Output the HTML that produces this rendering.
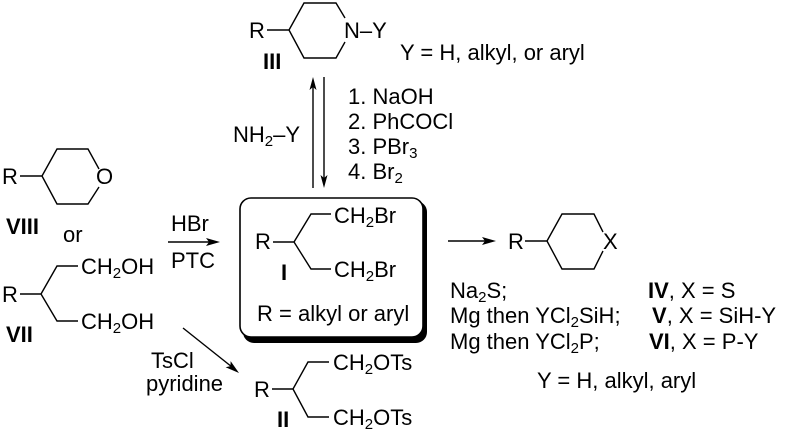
<!DOCTYPE html>
<html>
<head>
<meta charset="utf-8">
<style>
html,body{margin:0;padding:0;background:#fff;width:786px;height:441px;overflow:hidden}
svg{display:block}
text{font-family:"Liberation Sans",sans-serif;font-size:22px;fill:#000}
.b{font-weight:bold}
.l{fill:none;stroke:#000;stroke-width:1.4}
</style>
</head>
<body>
<svg width="786" height="441" viewBox="0 0 786 441" xmlns="http://www.w3.org/2000/svg">
<defs>
<path id="h" d="M0 0L-14 -4L-11 0L-14 4Z"/>
</defs>

<!-- III -->
<text x="249" y="38">R</text>
<path class="l" d="M267 30H289L304 3H336L345 18M345 42L336 58H304L289 30"/>
<text x="344" y="38">N–Y</text>
<text class="b" x="263" y="69">III</text>
<text x="400" y="60">Y = H, alkyl, or aryl</text>

<!-- equilibrium arrows -->
<path class="l" d="M313 188V84M324 77V181"/>
<path d="M313 77L309.5 90L313 87L316.5 90Z"/>
<path d="M324 188L320.5 175L324 178L327.5 175Z"/>
<text x="233" y="142">NH<tspan font-size="15" dy="4">2</tspan><tspan dy="-4">–Y</tspan></text>
<text x="348" y="104">1. NaOH</text>
<text x="348" y="129">2. PhCOCl</text>
<text x="348" y="154">3. PBr<tspan font-size="15" dy="4">3</tspan></text>
<text x="348" y="179">4. Br<tspan font-size="15" dy="4">2</tspan></text>

<!-- VIII -->
<text x="2" y="184">R</text>
<path class="l" d="M20 176H42L57 149H88L99 169M99 187L88 204H57L42 176"/>
<text x="96" y="184">O</text>
<text class="b" x="6" y="234">VIII</text>
<text x="63" y="242">or</text>

<!-- VII -->
<text x="2" y="302">R</text>
<path class="l" d="M20 294H41L57 266H78M41 294L57 321H78"/>
<text x="81" y="274">CH<tspan font-size="15" dy="4">2</tspan><tspan dy="-4">OH</tspan></text>
<text x="81" y="329">CH<tspan font-size="15" dy="4">2</tspan><tspan dy="-4">OH</tspan></text>
<text class="b" x="6" y="342">VII</text>

<!-- HBr arrow -->
<text x="171" y="231">HBr</text>
<path class="l" d="M168 242H210"/>
<use href="#h" transform="translate(220 242)"/>
<text x="171" y="268">PTC</text>

<!-- diagonal arrow -->
<path class="l" d="M183 328L232 367"/>
<use href="#h" transform="translate(239 373) rotate(39)"/>
<text x="151" y="368">TsCl</text>
<text x="146" y="391">pyridine</text>

<!-- box -->
<rect x="243" y="201" width="184" height="142" rx="11" fill="#000"/>
<rect x="240" y="198" width="183" height="139" rx="11" fill="#fff" stroke="#000" stroke-width="1.6"/>
<text x="255" y="249">R</text>
<path class="l" d="M273 242H294L311 214H331M294 242L311 269H331"/>
<text x="334" y="223">CH<tspan font-size="15" dy="4">2</tspan><tspan dy="-4">Br</tspan></text>
<text x="334" y="277">CH<tspan font-size="15" dy="4">2</tspan><tspan dy="-4">Br</tspan></text>
<text class="b" x="281" y="280">I</text>
<text x="257" y="321">R = alkyl or aryl</text>

<!-- II -->
<text x="254" y="397">R</text>
<path class="l" d="M272 389H293L308 362H329M293 389L308 417H329"/>
<text x="333" y="370">CH<tspan font-size="15" dy="4">2</tspan><tspan dy="-4">OTs</tspan></text>
<text x="333" y="425">CH<tspan font-size="15" dy="4">2</tspan><tspan dy="-4">OTs</tspan></text>
<text class="b" x="277" y="427">II</text>

<!-- right product -->
<path class="l" d="M448 241H486"/>
<use href="#h" transform="translate(496 241)"/>
<text x="508" y="249">R</text>
<path class="l" d="M525 241H547L562 214H594L603 232M603 251L594 269H562L547 241"/>
<text x="603" y="249">X</text>

<text x="450" y="298">Na<tspan font-size="15" dy="4">2</tspan><tspan dy="-4">S;</tspan></text>
<text x="450" y="323">Mg then YCl<tspan font-size="15" dy="4">2</tspan><tspan dy="-4">SiH;</tspan></text>
<text x="450" y="349">Mg then YCl<tspan font-size="15" dy="4">2</tspan><tspan dy="-4">P;</tspan></text>
<text x="648" y="298"><tspan class="b">IV</tspan>, X = S</text>
<text x="652" y="323"><tspan class="b">V</tspan>, X = SiH-Y</text>
<text x="649" y="349"><tspan class="b">VI</tspan>, X = P-Y</text>
<text x="537" y="388">Y = H, alkyl, aryl</text>
</svg>
</body>
</html>
